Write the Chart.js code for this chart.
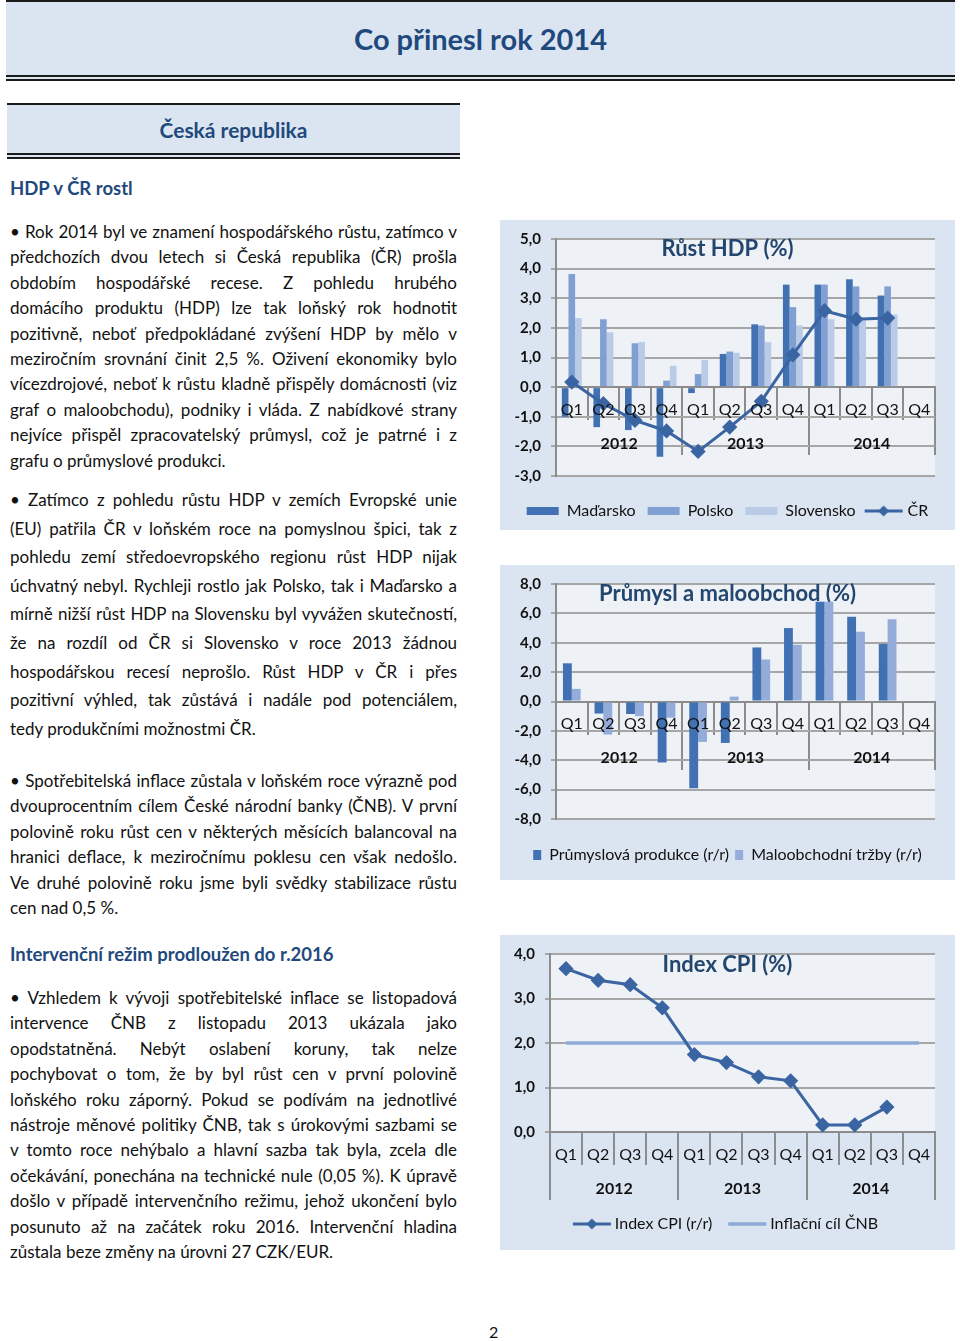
<!DOCTYPE html>
<html lang="cs">
<head>
<meta charset="utf-8">
<title>Co přinesl rok 2014</title>
<script src="https://cdn.jsdelivr.net/npm/chart.js@4.4.1/dist/chart.umd.min.js"></script>
<style>
  html, body { margin: 0; padding: 0; background: #fff; }
  body { position: relative; width: 960px; height: 1341px; overflow: hidden; font-family: Lato, "Open Sans", sans-serif; color: #111; }
  .band { position: absolute; box-sizing: border-box; background: #dbe5f1; border-top: 2px solid #1b1b1b; border-bottom: 6px double #1b1b1b;
          display: flex; align-items: center; justify-content: center; color: #1f497d; font-weight: 700; }
  #top { left: 6px; top: 0; width: 949px; height: 81px; font-size: 29px; }
  #cz { left: 7px; top: 103px; width: 453px; height: 56px; font-size: 21px; }
  .head { position: absolute; left: 10px; margin: 0; font-size: 18.5px; line-height: 24px; color: #1f497d; font-weight: 700; }
  .p { position: absolute; left: 10px; width: 447px; font-size: 17px; }
  .p div { text-align: justify; text-align-last: justify; }
  .p div.end { text-align-last: left; }
  .lh1 { line-height: 25.4px; }
  .lh2 { line-height: 28.6px; }
  .box { position: absolute; left: 500px; width: 455px; background: #dbe5f1; }
  #pg { position: absolute; left: 489px; top: 1322px; font-size: 16px; }
</style>
</head>
<body>
<div class="band" id="top">Co přinesl rok 2014</div>
<div class="band" id="cz">Česká republika</div>
<h3 class="head" style="top:176px">HDP v ČR rostl</h3>

<div class="p lh1" style="top:219px">
  <div>• Rok 2014 byl ve znamení hospodářského růstu, zatímco v</div>
  <div>předchozích dvou letech si Česká republika (ČR) prošla</div>
  <div>obdobím hospodářské recese. Z pohledu hrubého</div>
  <div>domácího produktu (HDP) lze tak loňský rok hodnotit</div>
  <div>pozitivně, neboť předpokládané zvýšení HDP by mělo v</div>
  <div>meziročním srovnání činit 2,5 %. Oživení ekonomiky bylo</div>
  <div>vícezdrojové, neboť k růstu kladně přispěly domácnosti (viz</div>
  <div>graf o maloobchodu), podniky i vláda. Z nabídkové strany</div>
  <div>nejvíce přispěl zpracovatelský průmysl, což je patrné i z</div>
  <div class="end">grafu o průmyslové produkci.</div>
</div>

<div class="p lh2" style="top:486px">
  <div>• Zatímco z pohledu růstu HDP v zemích Evropské unie</div>
  <div>(EU) patřila ČR v loňském roce na pomyslnou špici, tak z</div>
  <div>pohledu zemí středoevropského regionu růst HDP nijak</div>
  <div>úchvatný nebyl. Rychleji rostlo jak Polsko, tak i Maďarsko a</div>
  <div>mírně nižší růst HDP na Slovensku byl vyvážen skutečností,</div>
  <div>že na rozdíl od ČR si Slovensko v roce 2013 žádnou</div>
  <div>hospodářskou recesí neprošlo. Růst HDP v ČR i přes</div>
  <div>pozitivní výhled, tak zůstává i nadále pod potenciálem,</div>
  <div class="end">tedy produkčními možnostmi ČR.</div>
</div>

<div class="p lh1" style="top:768px">
  <div>• Spotřebitelská inflace zůstala v loňském roce výrazně pod</div>
  <div>dvouprocentním cílem České národní banky (ČNB). V první</div>
  <div>polovině roku růst cen v některých měsících balancoval na</div>
  <div>hranici deflace, k meziročnímu poklesu cen však nedošlo.</div>
  <div>Ve druhé polovině roku jsme byli svědky stabilizace růstu</div>
  <div class="end">cen nad 0,5 %.</div>
</div>

<h3 class="head" style="top:942px">Intervenční režim prodloužen do r.2016</h3>

<div class="p lh1" style="top:985px">
  <div>• Vzhledem k vývoji spotřebitelské inflace se listopadová</div>
  <div>intervence ČNB z listopadu 2013 ukázala jako</div>
  <div>opodstatněná. Nebýt oslabení koruny, tak nelze</div>
  <div>pochybovat o tom, že by byl růst cen v první polovině</div>
  <div>loňského roku záporný. Pokud se podívám na jednotlivé</div>
  <div>nástroje měnové politiky ČNB, tak s úrokovými sazbami se</div>
  <div>v tomto roce nehýbalo a hlavní sazba tak byla, zcela dle</div>
  <div>očekávání, ponechána na technické nule (0,05 %). K úpravě</div>
  <div>došlo v případě intervenčního režimu, jehož ukončení bylo</div>
  <div>posunuto až na začátek roku 2016. Intervenční hladina</div>
  <div class="end">zůstala beze změny na úrovni 27 CZK/EUR.</div>
</div>

<div class="box" style="top:220px;height:310px"><canvas id="hdp-chart"></canvas></div>
<div class="box" style="top:565px;height:315px"><canvas id="industry-chart"></canvas></div>
<div class="box" style="top:935px;height:315px"><canvas id="cpi-chart"></canvas></div>

<div id="pg">2</div>

<script>
// keep every text line on one row: tighten letters if a line would wrap
document.querySelectorAll('.p div').forEach((line) => {
  const lh = parseFloat(getComputedStyle(line).lineHeight);
  let ls = 0;
  while (line.getBoundingClientRect().height > lh * 1.5 && ls > -1.5) {
    ls -= 0.05;
    line.style.letterSpacing = ls + 'px';
  }
});

const quarters = ['Q1', 'Q2', 'Q3', 'Q4', 'Q1', 'Q2', 'Q3', 'Q4', 'Q1', 'Q2', 'Q3', 'Q4'];
const years = ['2012', '2013', '2014'];

// Růst HDP (%)
const hdpHungary = [-1.0, -1.35, -1.45, -2.35, -0.2, 1.12, 2.12, 3.46, 3.46, 3.64, 3.09, null];
const hdpPoland = [3.82, 2.29, 1.48, 0.22, 0.44, 1.2, 2.08, 2.7, 3.46, 3.4, 3.4, null];
const hdpSlovakia = [2.33, 1.85, 1.52, 0.72, 0.92, 1.16, 1.52, 2.08, 2.29, 2.25, 2.45, null];
const hdpCzech = [0.17, -0.56, -1.12, -1.48, -2.17, -1.35, -0.48, 1.09, 2.58, 2.29, 2.33, null];

// Průmysl a maloobchod (%)
const industry = [2.6, -0.82, -0.85, -4.15, -5.9, -2.82, 3.68, 5.0, 6.8, 5.77, 3.92, null];
const retail = [0.86, -2.25, -1.0, -1.1, -2.75, 0.33, 2.86, 3.86, 6.8, 4.75, 5.6, null];

// Index CPI (%)
const cpi = [3.67, 3.41, 3.31, 2.79, 1.74, 1.56, 1.24, 1.15, 0.16, 0.16, 0.56, null];
const cpiTarget = [2, 2, 2, 2, 2, 2, 2, 2, 2, 2, 2, 2];

const darkBlue = '#4170b3';
const midBlue = '#809fd3';
const lightBlue = '#b9cbe7';
const lineBlue = '#3a64a2';
const targetBlue = '#8eaad9';
const titleBlue = '#23466f';
const gridGrey = '#a6a6a6';
const axisGrey = '#8c8c8c';

Chart.defaults.font.family = 'Lato';
Chart.defaults.color = '#111';

const plotBackground = {
  id: 'plotBackground',
  beforeDraw(chart, args, opts) {
    const { ctx, chartArea } = chart;
    ctx.save();
    ctx.fillStyle = opts.color || '#eef1f5';
    ctx.fillRect(chartArea.left, chartArea.top, chartArea.width, chartArea.height);
    ctx.restore();
  },
};
Chart.register(plotBackground);

// legend icon: a short line, optionally with a diamond
function lineIcon(color, width, diamond) {
  const c = document.createElement('canvas');
  c.width = 40;
  c.height = 14;
  const g = c.getContext('2d');
  g.strokeStyle = color;
  g.lineWidth = width;
  g.beginPath();
  g.moveTo(1, 7);
  g.lineTo(39, 7);
  g.stroke();
  if (diamond) {
    g.fillStyle = color;
    g.beginPath();
    g.moveTo(20, 1.5);
    g.lineTo(25.5, 7);
    g.lineTo(20, 12.5);
    g.lineTo(14.5, 7);
    g.closePath();
    g.fill();
  }
  return c;
}

const fmt = (v) => v.toFixed(1).replace('.', ',');

// title drawn over the plot area without taking layout space
function overlayTitle(text, offsetY) {
  const size = 22;
  const lh = size * 1.2;
  const top = offsetY - lh / 2;
  return {
    display: true,
    text,
    color: titleBlue,
    font: { size, weight: 'bold' },
    padding: { top, bottom: -(lh + top) },
  };
}

function yAxis(min, max, step, width) {
  return {
    min,
    max,
    ticks: { stepSize: step, font: { size: 15, weight: 'bold' }, color: '#111', padding: 10, callback: fmt },
    grid: { color: gridGrey, lineWidth: 2, tickLength: 5 },
    border: { color: axisGrey, width: 2 },
    afterFit(scale) { scale.width = width; },
  };
}

// empty right-hand strip, keeps title and legend centred on the whole box
const rightGap = {
  position: 'right',
  grid: { display: false },
  border: { display: false },
  ticks: { display: false },
  afterFit(scale) { scale.width = 20; },
};

function quarterAxes() {
  return {
    x: {
      position: { y: 0 },
      offset: true,
      grid: { offset: true, drawOnChartArea: false, tickLength: 32, color: axisGrey, lineWidth: 2 },
      border: { color: axisGrey, width: 2 },
      ticks: { font: { size: 16 }, color: '#111', padding: -19, maxRotation: 0, autoSkip: false, z: 1 },
    },
    x2: {
      type: 'category',
      labels: years,
      position: { y: 0 },
      offset: true,
      grid: { offset: true, drawOnChartArea: false, tickLength: 68, color: axisGrey, lineWidth: 2 },
      border: { display: false },
      ticks: { font: { size: 16, weight: 'bold' }, color: '#111', padding: -21, maxRotation: 0, z: 1 },
    },
  };
}

function legendSpacer(height) {
  return { display: true, text: ' ', font: { size: 10, lineHeight: 1 }, padding: { top: height - 10, bottom: 0 } };
}

const hdpChart = new Chart('hdp-chart', {
  type: 'bar',
  data: {
    labels: quarters,
    datasets: [
      { label: 'Maďarsko', data: hdpHungary, backgroundColor: darkBlue },
      { label: 'Polsko', data: hdpPoland, backgroundColor: midBlue },
      { label: 'Slovensko', data: hdpSlovakia, backgroundColor: lightBlue },
      {
        type: 'line', label: 'ČR', data: hdpCzech, order: -1,
        borderColor: lineBlue, backgroundColor: lineBlue, borderWidth: 3,
        pointStyle: 'rectRot', pointRadius: 5.5, tension: 0,
      },
    ],
  },
  options: {
    responsive: true,
    maintainAspectRatio: false,
    animation: false,
    layout: { padding: { top: 18, left: 0, right: 0, bottom: 1 } },
    datasets: { bar: { categoryPercentage: 0.63, barPercentage: 1 } },
    scales: { ...quarterAxes(), y: yAxis(-3, 5, 1, 56), yr: rightGap },
    plugins: {
      plotBackground: { color: '#eef1f5' },
      tooltip: { enabled: false },
      title: overlayTitle('Růst HDP (%)', 10),
      legend: {
        position: 'bottom',
        title: legendSpacer(15),
        labels: {
          usePointStyle: true,
          pointStyleWidth: 32,
          boxHeight: 8,
          padding: 12,
          font: { size: 16 },
          color: '#111',
          generateLabels(chart) {
            const items = Chart.defaults.plugins.legend.labels.generateLabels(chart);
            items.sort((a, b) => a.datasetIndex - b.datasetIndex);
            items.forEach((item) => {
              item.pointStyle = item.datasetIndex === 3 ? lineIcon(lineBlue, 3, true) : 'rect';
            });
            return items;
          },
        },
      },
    },
  },
});

const industryChart = new Chart('industry-chart', {
  type: 'bar',
  data: {
    labels: quarters,
    datasets: [
      { label: 'Průmyslová produkce (r/r)', data: industry, backgroundColor: darkBlue },
      { label: 'Maloobchodní tržby (r/r)', data: retail, backgroundColor: '#93acd9' },
    ],
  },
  options: {
    responsive: true,
    maintainAspectRatio: false,
    animation: false,
    layout: { padding: { top: 18, left: 0, right: 0, bottom: 7 } },
    datasets: { bar: { categoryPercentage: 0.56, barPercentage: 1 } },
    scales: { ...quarterAxes(), y: yAxis(-8, 8, 2, 56), yr: rightGap },
    plugins: {
      plotBackground: { color: '#eef1f5' },
      tooltip: { enabled: false },
      title: overlayTitle('Průmysl a maloobchod (%)', 10),
      legend: {
        position: 'bottom',
        title: legendSpacer(22),
        labels: { boxWidth: 8, boxHeight: 10, padding: 6, font: { size: 16 }, color: '#111' },
      },
    },
  },
});

const cpiChart = new Chart('cpi-chart', {
  type: 'line',
  data: {
    labels: quarters,
    datasets: [
      {
        label: 'Index CPI (r/r)', data: cpi,
        borderColor: lineBlue, backgroundColor: lineBlue, borderWidth: 3,
        pointStyle: 'rectRot', pointRadius: 5.5, tension: 0,
      },
      {
        label: 'Inflační cíl ČNB', data: cpiTarget,
        borderColor: targetBlue, backgroundColor: targetBlue, borderWidth: 3.5,
        pointRadius: 0, tension: 0,
      },
    ],
  },
  options: {
    responsive: true,
    maintainAspectRatio: false,
    animation: false,
    layout: { padding: { top: 17, left: 0, right: 0, bottom: 8 } },
    scales: { ...quarterAxes(), y: yAxis(0, 4, 1, 50), yr: rightGap },
    plugins: {
      plotBackground: { color: '#eef1f5' },
      tooltip: { enabled: false },
      title: overlayTitle('Index CPI (%)', 11),
      legend: {
        position: 'bottom',
        title: legendSpacer(64),
        labels: {
          usePointStyle: true,
          pointStyleWidth: 30,
          padding: 20,
          font: { size: 16 },
          color: '#111',
          generateLabels(chart) {
            const items = Chart.defaults.plugins.legend.labels.generateLabels(chart);
            items.forEach((item) => {
              item.pointStyle = item.datasetIndex === 0
                ? lineIcon(lineBlue, 3, true)
                : lineIcon(targetBlue, 3.5, false);
            });
            return items;
          },
        },
      },
    },
  },
});
</script>
</body>
</html>
